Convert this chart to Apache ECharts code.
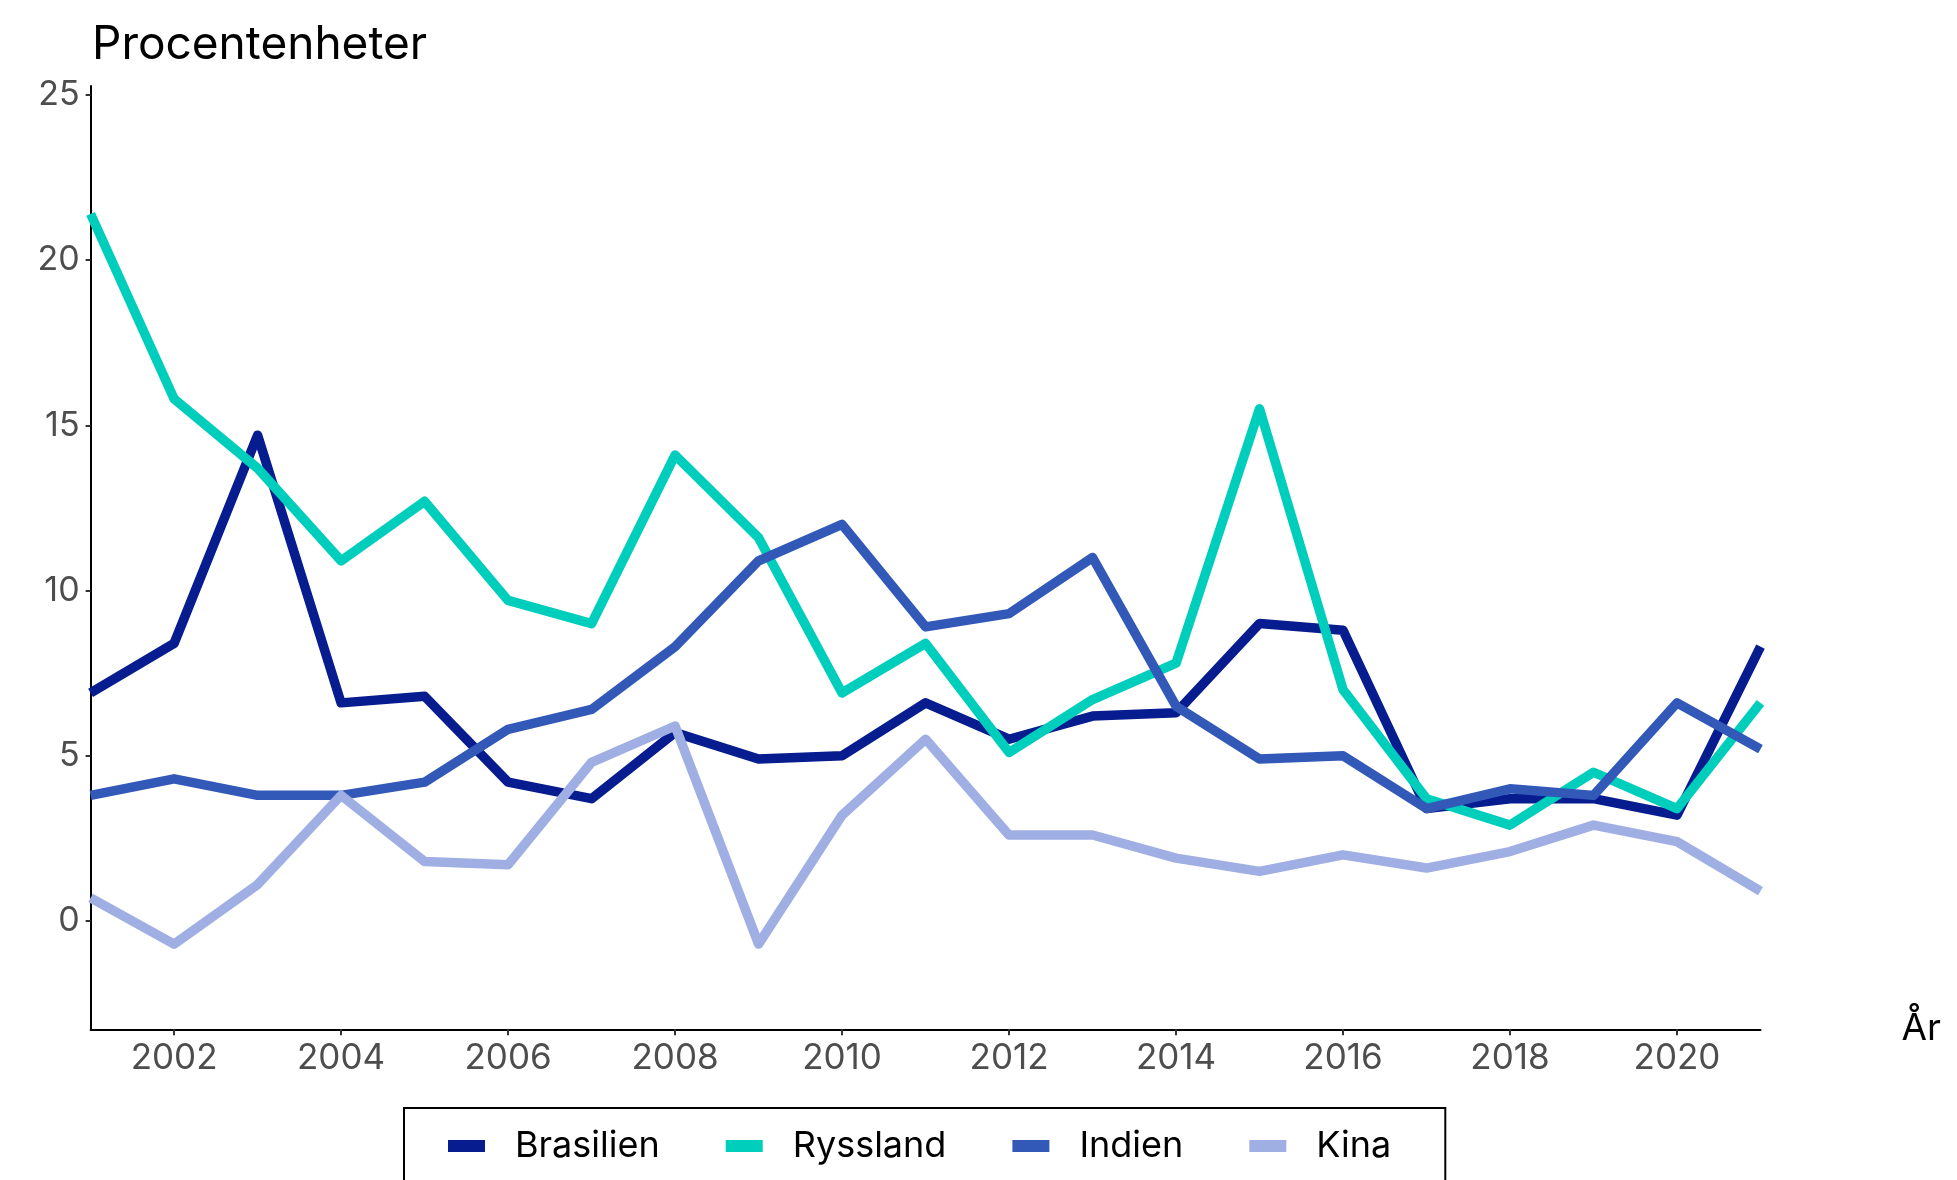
<!DOCTYPE html>
<html>
<head>
<meta charset="utf-8">
<script src="https://cdn.jsdelivr.net/npm/echarts@6/dist/echarts.min.js"></script>
<style>
html,body{margin:0;padding:0;background:#fff;}
#chart{width:1957px;height:1180px;}
</style>
</head>
<body>
<div id="chart"></div>
<script>
const years = ['2001','2002','2003','2004','2005','2006','2007','2008','2009','2010','2011','2012','2013','2014','2015','2016','2017','2018','2019','2020','2021'];
const brasilien = [6.9, 8.4, 14.7, 6.6, 6.8, 4.2, 3.7, 5.7, 4.9, 5.0, 6.6, 5.5, 6.2, 6.3, 9.0, 8.8, 3.4, 3.7, 3.7, 3.2, 8.3];
const ryssland  = [21.4, 15.8, 13.7, 10.9, 12.7, 9.7, 9.0, 14.1, 11.6, 6.9, 8.4, 5.1, 6.7, 7.8, 15.5, 7.0, 3.7, 2.9, 4.5, 3.4, 6.6];
const indien    = [3.8, 4.3, 3.8, 3.8, 4.2, 5.8, 6.4, 8.3, 10.9, 12.0, 8.9, 9.3, 11.0, 6.5, 4.9, 5.0, 3.4, 4.0, 3.8, 6.6, 5.2];
const kina      = [0.7, -0.7, 1.1, 3.8, 1.8, 1.7, 4.8, 5.9, -0.7, 3.2, 5.5, 2.6, 2.6, 1.9, 1.5, 2.0, 1.6, 2.1, 2.9, 2.4, 0.9];
const yTicks = [0, 5, 10, 15, 20, 25];
const seriesNames = ['Brasilien', 'Ryssland', 'Indien', 'Kina'];
const colors = ['#061C8F', '#00CEBC', '#3258B8', '#A0AFE3'];

const FONT = 'Inter';
const chart = echarts.init(document.getElementById('chart'), null, {renderer: 'canvas'});

function line(name, data, color) {
  return {
    name: name, type: 'line', data: data, symbol: 'none', animation: false,
    lineStyle: {width: 9.5, color: color, cap: 'butt', join: 'round'},
    itemStyle: {color: color}
  };
}

chart.setOption({
  animation: false,
  color: colors,
  title: {
    text: 'Procentenheter', left: 87, top: 17,
    textStyle: {fontFamily: FONT, fontSize: 46, fontWeight: 'normal', color: '#000'}
  },
  grid: {left: 90.6, right: 196.5, top: 86, bottom: 150.7, containLabel: false},
  legend: {
    data: seriesNames,
    left: 404, top: 1108,
    orient: 'horizontal',
    icon: 'rect',
    itemWidth: 37, itemHeight: 12, itemGap: 66,
    padding: [18, 54, 18, 44],
    borderColor: '#000', borderWidth: 2,
    textStyle: {fontFamily: FONT, fontSize: 36, color: '#000', lineHeight: 40, padding: [0, 0, 0, 25]}
  },
  xAxis: {
    type: 'category', data: years, boundaryGap: false,
    name: 'År', nameLocation: 'end', nameGap: 141,
    nameTextStyle: {fontFamily: FONT, fontSize: 37, color: '#000', verticalAlign: 'middle', padding: [8, 0, 0, 0]},
    axisLine: {onZero: false, lineStyle: {color: '#000', width: 2}},
    axisTick: {show: true, length: 6, interval: function (i) { return i % 2 === 1; }, lineStyle: {color: '#333', width: 2}},
    axisLabel: {interval: function (i) { return i % 2 === 1; }, fontFamily: FONT, fontSize: 35, color: '#4D4D4D', margin: 12},
    splitLine: {show: false}
  },
  yAxis: {
    type: 'value', min: -3.28, max: 25.27,
    axisLine: {show: true, lineStyle: {color: '#000', width: 2}},
    axisTick: {show: true, length: 5, customValues: yTicks, lineStyle: {color: '#333', width: 2}},
    axisLabel: {customValues: yTicks, fontFamily: FONT, fontSize: 34, color: '#4D4D4D', margin: 11},
    splitLine: {show: false}
  },
  series: [
    line(seriesNames[0], brasilien, colors[0]),
    line(seriesNames[1], ryssland, colors[1]),
    line(seriesNames[2], indien, colors[2]),
    line(seriesNames[3], kina, colors[3])
  ]
});
</script>
</body>
</html>
